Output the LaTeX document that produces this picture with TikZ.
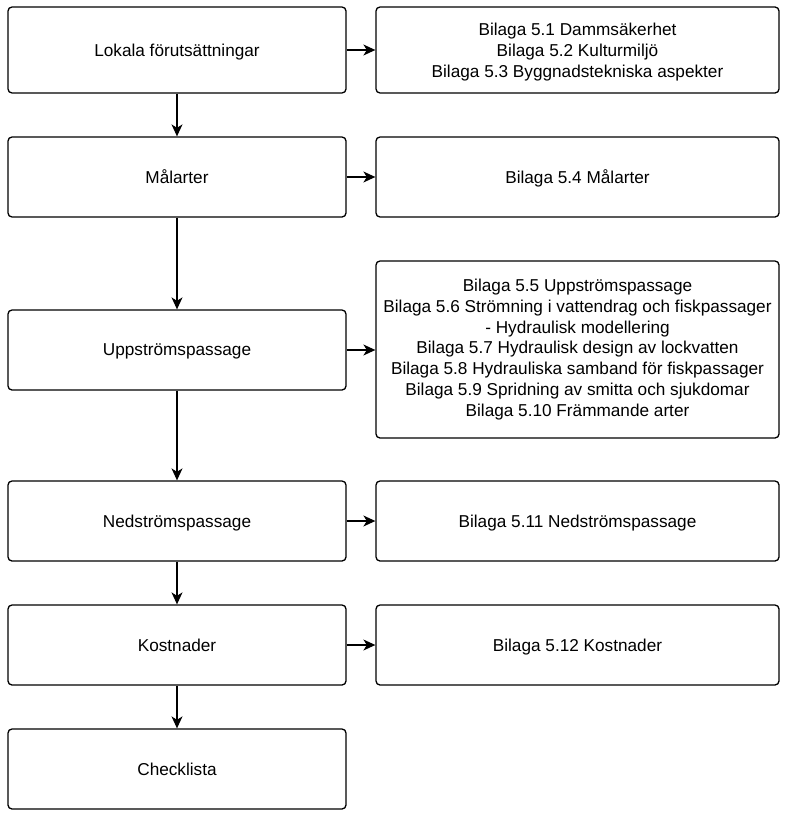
\documentclass[tikz,border=0pt]{standalone}
\usepackage{fontspec}
\setmainfont{Liberation Sans}
\usetikzlibrary{arrows.meta}
\begin{document}
\begin{tikzpicture}[x=1pt,y=-1pt,
  box/.style={draw=black,line width=1.3pt,rounded corners=4pt,fill=white,inner sep=0pt,align=center,font=\fontsize{17.2}{20.8}\selectfont},
  lbox/.style={box,minimum width=338pt,text depth=0pt},
  rbox/.style={box,minimum width=403pt},
  conn/.style={draw=black,line width=1.3pt,-{Stealth[length=12pt,width=11pt,inset=3.5pt]}}]
\useasboundingbox[fill=white] (0,0) rectangle (788,819);
\node[lbox,minimum height=86pt] (l1) at (177,50) {Lokala förutsättningar};
\node[lbox,minimum height=80pt] (l2) at (177,177) {Målarter};
\node[lbox,minimum height=80pt] (l3) at (177,350) {Uppströmspassage};
\node[lbox,minimum height=80pt] (l4) at (177,521) {Nedströmspassage};
\node[lbox,minimum height=80pt] (l5) at (177,645) {Kostnader};
\node[lbox,minimum height=80pt] (l6) at (177,769) {Checklista};
\node[rbox,minimum height=86pt,text depth=0pt] (r1) at (577.5,50) {Bilaga 5.1 Dammsäkerhet\\Bilaga 5.2 Kulturmiljö\\Bilaga 5.3 Byggnadstekniska aspekter};
\node[rbox,minimum height=80pt,text depth=0pt] (r2) at (577.5,177) {Bilaga 5.4 Målarter};
\node[rbox,minimum height=177pt] (r3) at (577.5,349.5) {Bilaga 5.5 Uppströmspassage\\Bilaga 5.6 Strömning i vattendrag och fiskpassager\\- Hydraulisk modellering\\Bilaga 5.7 Hydraulisk design av lockvatten\\Bilaga 5.8 Hydrauliska samband för fiskpassager\\Bilaga 5.9 Spridning av smitta och sjukdomar\\Bilaga 5.10 Främmande arter};
\node[rbox,minimum height=80pt,text depth=0pt] (r4) at (577.5,521) {Bilaga 5.11 Nedströmspassage};
\node[rbox,minimum height=80pt,text depth=0pt] (r5) at (577.5,645) {Bilaga 5.12 Kostnader};
\draw[conn] (l1) -- (l2);
\draw[conn] (l2) -- (l3);
\draw[conn] (l3) -- (l4);
\draw[conn] (l4) -- (l5);
\draw[conn] (l5) -- (l6);
\draw[conn] (l1.east) -- (r1.west);
\draw[conn] (l2.east) -- (r2.west);
\draw[conn] (l3.east) -- (l3.east -| r3.west);
\draw[conn] (l4.east) -- (r4.west);
\draw[conn] (l5.east) -- (r5.west);
\end{tikzpicture}
\end{document}
